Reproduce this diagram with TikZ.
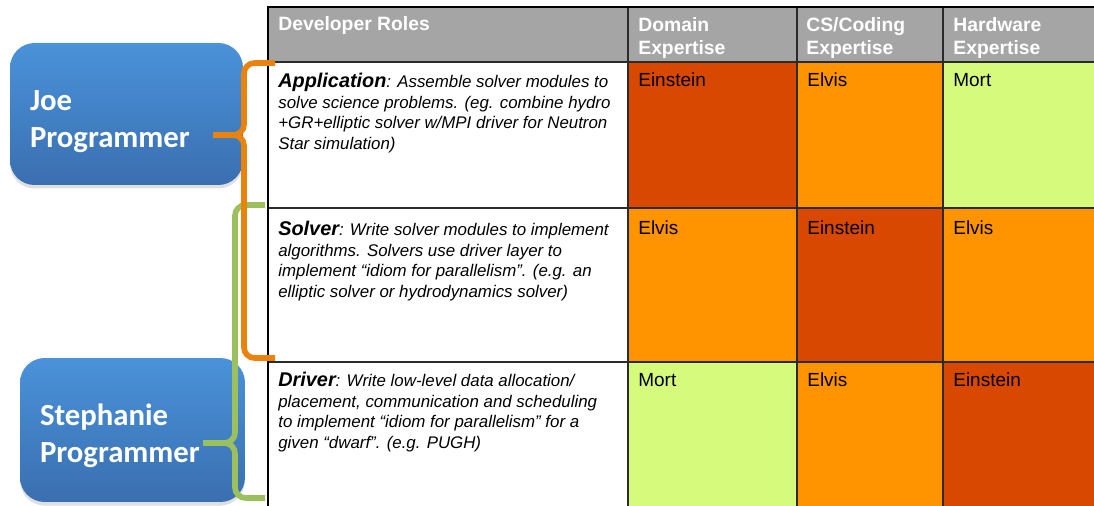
\documentclass[tikz,border=0pt]{standalone}
\usepackage{fontspec}
\setmainfont{Liberation Sans}
\newfontfamily\calfont{Carlito}
\usetikzlibrary{shadows}
\definecolor{hdrgray}{HTML}{A5A5A5}
\definecolor{gridline}{HTML}{2B2B2B}
\definecolor{ein}{HTML}{D84800}
\definecolor{elv}{HTML}{FF9400}
\definecolor{mrt}{HTML}{D5FA7C}
\definecolor{joeorange}{HTML}{EA820E}
\definecolor{stephgreen}{HTML}{9DC05F}
\definecolor{boxtop}{HTML}{4A92DA}
\definecolor{boxbot}{HTML}{3A6FB0}
\newcommand{\rolename}[1]{{\fontsize{11.3}{11.8}\selectfont\bfseries #1}}
\begin{document}
\begin{tikzpicture}[x=0.02cm,y=-0.02cm,
	cell/.style={anchor=base west,inner sep=0pt,font=\fontsize{10.8}{12}\selectfont},
	hdr/.style={anchor=base west,inner sep=0pt,align=left,text=white,font=\bfseries\fontsize{11}{13.6}\selectfont},
	role/.style={anchor=base west,inner sep=0pt,align=left,font=\itshape\fontsize{9.6}{11.8}\selectfont},
	prog/.style={rounded corners=14pt,top color=boxtop,bottom color=boxbot,
		drop shadow={opacity=0.25,shadow xshift=0pt,shadow yshift=-2pt},
		text=white,font=\calfont\bfseries\fontsize{17.5}{21}\selectfont},
	bracket/.style={line width=3.2pt,rounded corners=6pt}]
	\useasboundingbox (0,0) rectangle (1094,506);
	% header (multi-line nodes sit on their last baseline)
	\fill[hdrgray] (268,8) rectangle (1094,62);
	\node[hdr] (roles) at (278,31) {Developer Roles};
	\node[hdr] (domain) at (638,55) {Domain\\Expertise};
	\node[hdr] (coding) at (806,55) {CS/Coding\\Expertise};
	\node[hdr] (hardware) at (953,55) {Hardware\\Expertise};
	% expertise cells
	\foreach \xa/\xb/\ya/\yb/\b/\col/\who [count=\i] in
		{628/797/62/208/87/ein/Einstein, 797/943/62/208/87/elv/Elvis, 943/1094/62/208/87/mrt/Mort,
		 628/797/208/362/235/elv/Elvis, 797/943/208/362/235/ein/Einstein, 943/1094/208/362/235/elv/Elvis,
		 628/797/362/506/386/mrt/Mort, 797/943/362/506/386/elv/Elvis, 943/1094/362/506/386/ein/Einstein}
	{
		\fill[\col] (\xa,\ya) rectangle (\xb,\yb);
		\node[cell] (cell\i) at (\xa+10,\b) {\who};
	}
	% role descriptions
	\node[role] (app) at (278,149.5) {\rolename{Application}: Assemble solver modules to\\
		solve science problems. (eg. combine hydro\\+GR+elliptic solver w/MPI driver for Neutron\\Star simulation)};
	\node[role] (solver) at (278,297.5) {\rolename{Solver}: Write solver modules to implement\\
		algorithms. Solvers use driver layer to\\implement “idiom for parallelism”. (e.g. an\\elliptic solver or hydrodynamics solver)};
	\node[role] (driver) at (278,448.5) {\rolename{Driver}: Write low-level data allocation/\\
		placement, communication and scheduling\\to implement “idiom for parallelism” for a\\given “dwarf”. (e.g. PUGH)};
	% grid
	\foreach \y in {62,208,362}
		\draw[gridline,line width=0.8pt] (268,\y) -- (1094,\y);
	\foreach \x in {628,797,943}
		\draw[gridline,line width=0.8pt] (\x,8) -- (\x,506);
	\draw[black,line width=1.7pt] (268,7) -- (1094,7);
	\draw[black,line width=1.7pt] (268,6) -- (268,506);
	% programmers
	\node[prog,minimum width=4.66cm,minimum height=2.84cm] (joe) at (126.5,114)
		{\raisebox{-0.16cm}[\height][\depth]{\parbox{3.86cm}{Joe\\Programmer}}};
	\node[prog,minimum width=4.5cm,minimum height=2.88cm] (steph) at (132.5,430)
		{\raisebox{-0.12cm}[\height][\depth]{\parbox{3.7cm}{Stephanie\\Programmer}}};
	% brackets
	\coordinate (stephTop) at (265,205);
	\coordinate (stephTip) at (203,443);
	\coordinate (stephBot) at (265,498);
	\draw[bracket,stephgreen] (stephTop) -- (235,205) -- (235,443) -- (stephTip);
	\draw[bracket,stephgreen] (stephTip) -- (235,443) -- (235,498) -- (stephBot);
	\coordinate (joeTop) at (275,63);
	\coordinate (joeTip) at (213,135);
	\coordinate (joeBot) at (275,358);
	\draw[bracket,joeorange] (joeTop) -- (244,63) -- (244,135) -- (joeTip);
	\draw[bracket,joeorange] (joeTip) -- (244,135) -- (244,358) -- (joeBot);
\end{tikzpicture}
\end{document}
